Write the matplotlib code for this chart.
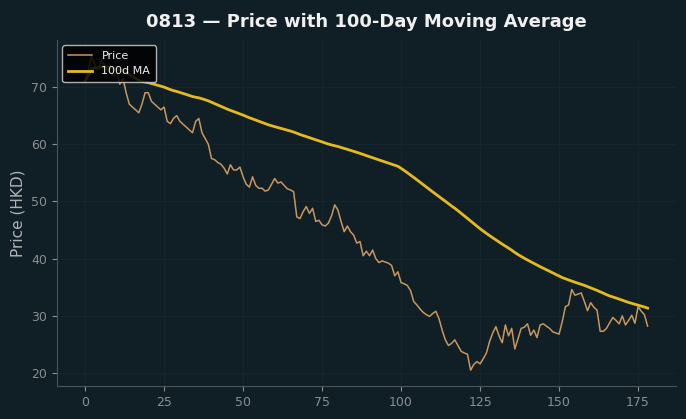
import matplotlib.pyplot as plt
import numpy as np
import pandas as pd

# closing prices, one per trading day
price = [71, 73, 75.5, 74, 73, 74.5, 74, 73, 72.5, 72, 72.5, 70.5, 71.5, 69, 67, 66.5, 66, 65.5, 67, 69,
         69, 67.5, 67, 66.5, 66, 66.5, 64, 63.6, 64.5, 65, 64, 63.5, 63, 62.5, 62, 64, 64.5, 62, 61, 60,
         57.5, 57.3, 56.8, 56.5, 55.8, 54.8, 56.4, 55.5, 55.5, 56, 54.3, 53, 52.5, 54.3, 52.8, 52.3, 52.3, 51.8, 52, 53,
         54, 53.2, 53.4, 52.8, 52.2, 52, 51.7, 47.3, 47, 48.2, 49.1, 47.9, 48.8, 46.5, 46.7, 45.9, 45.7, 46.2, 47.5, 49.4,
         48.5, 46.5, 44.7, 45.7, 44.7, 44.1, 42.7, 43, 40.5, 41.3, 40.5, 41.5, 40, 39.3, 39.6, 39.4, 39.2, 38.8, 37, 37.7,
         35.8, 35.6, 35.3, 34.4, 32.5, 31.9, 31.2, 30.6, 30.2, 29.9, 30.4, 30.8, 29.5, 27.5, 25.8, 24.8, 25.2, 25.8, 24.8, 23.8,
         23.5, 23.3, 20.5, 21.5, 22, 21.6, 22.5, 23.5, 25.5, 27, 28.1, 26.5, 25.3, 28.4, 26.5, 27.8, 24.2, 26, 27.8, 28,
         28.6, 26.6, 27.5, 26.2, 28.4, 28.6, 28.2, 27.8, 27.2, 27, 26.8, 29, 31.6, 31.9, 34.6, 33.6, 33.8, 34, 32.5, 30.9,
         32.3, 31.5, 31, 27.3, 27.3, 27.8, 28.8, 29.7, 29.2, 28.6, 30, 28.4, 29.2, 30.1, 28.7, 31.6, 30.8, 30.2, 28.2]
days = np.arange(len(price))
ma100 = pd.Series(price).rolling(100, min_periods=1).mean()

bg = '#101f26'
fig = plt.figure(figsize=(6.86, 4.19), dpi=100, facecolor=bg)
ax = fig.add_axes([0.083, 0.079, 0.902, 0.826], facecolor=bg)

ax.plot(days, price, color='#c8965f', lw=1.1, label='Price')
ax.plot(days, ma100, color='#e6b91e', lw=2, label='100d MA')

ax.set_title('0813 — Price with 100-Day Moving Average', color='#f0f0f0',
             fontsize=13, fontweight='bold', pad=9)
ax.set_ylabel('Price (HKD)', color='#b0b4b6', fontsize=11)

ax.grid(True, color='#17272d', lw=0.6)
ax.set_axisbelow(True)
ax.tick_params(colors='#8a8e90', labelsize=9)
for s in ['top', 'right']:
    ax.spines[s].set_visible(False)
for s in ['left', 'bottom']:
    ax.spines[s].set_color('#4a5356')

leg = ax.legend(loc='upper left', fontsize=8, facecolor='black', edgecolor='#cccccc',
                framealpha=0.85, borderpad=0.5, handlelength=2.2)
for t in leg.get_texts():
    t.set_color('#f0f0f0')

fig.savefig('out.png', dpi=100, facecolor=bg)
